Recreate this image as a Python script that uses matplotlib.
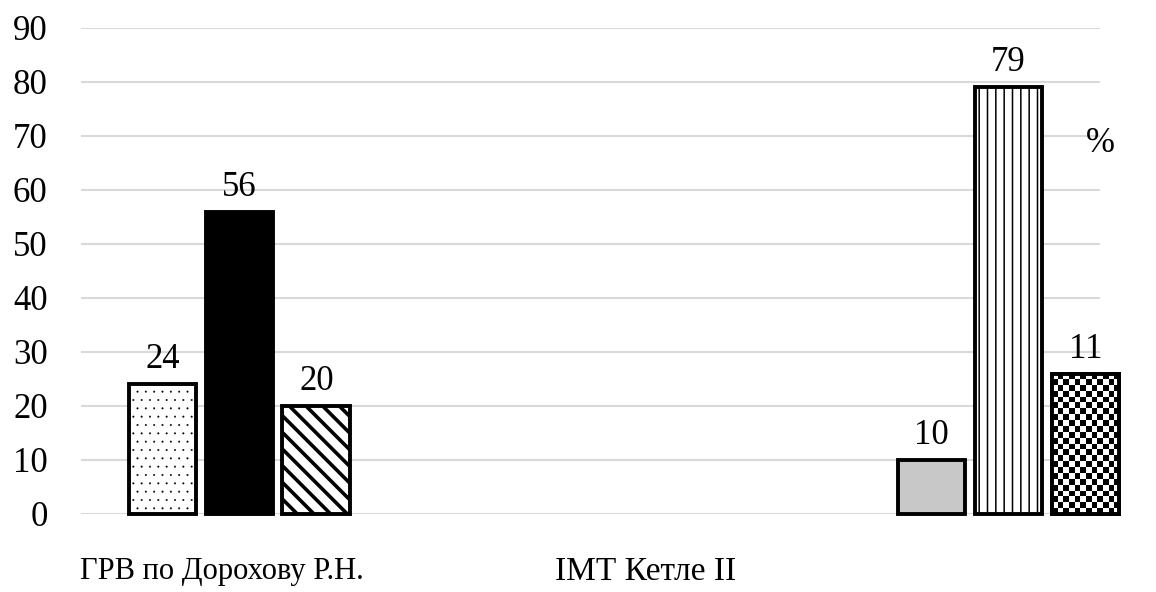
import matplotlib.pyplot as plt
import numpy as np
from matplotlib.patches import Rectangle

plt.rcParams['font.family'] = ['Liberation Serif', 'DejaVu Serif']

# six series, three per group (positions in bar slots)
positions = [0, 1, 2, 10, 11, 12]
heights = [24, 56, 20, 10, 79, 26]
labels = ['24', '56', '20', '10', '79', '11']
categories = ['ГРВ по Дорохову Р.Н.', 'ІМТ Кетле ІІ']
yticks = [0, 10, 20, 30, 40, 50, 60, 70, 80, 90]

fig = plt.figure(figsize=(11.56, 5.92), dpi=100)
ax = fig.add_axes([81 / 1156, 78 / 592, 1019 / 1156, 486 / 592])

styles = [
    dict(facecolor='white', hatch='..', edgecolor='black'),
    dict(facecolor='black', hatch='', edgecolor='black'),
    dict(facecolor='white', hatch='\\\\', edgecolor='black'),
    dict(facecolor='#c8c8c8', hatch='', edgecolor='black'),
    dict(facecolor='white', hatch='||', edgecolor='black'),
    dict(facecolor='white', hatch='', edgecolor='black'),
]
hatch_lw = [0.2, 1.0, 2.6, 1.0, 1.1, 1.0]

w = 0.88
for i, (x, h) in enumerate(zip(positions, heights)):
    bar = ax.bar(x, h, width=w, linewidth=2.8, zorder=3, clip_on=False,
                 **styles[i])[0]
    try:
        bar.set_hatch_linewidth(hatch_lw[i])
    except AttributeError:
        pass
    if i == 5:
        # checkerboard fill
        ny = int(h * 5.4 / 5.7)
        nx = 12
        yy, xx = np.indices((ny, nx))
        board = (yy + xx) % 2
        im = ax.imshow(board, cmap='gray', extent=(x - w / 2, x + w / 2, 0, h),
                       aspect='auto', interpolation='nearest', zorder=3.5,
                       origin='lower')
        im.set_clip_path(bar)
        ax.add_patch(Rectangle((x - w / 2, 0), w, h, facecolor='none',
                               edgecolor='black', linewidth=2.8, zorder=4,
                               clip_on=False))
    ax.text(x, h + 1.5, labels[i], ha='center', va='bottom', fontsize=25,
            color='black', zorder=5)

ax.set_xlim(-1.06, 12.19)
ax.set_ylim(0, 90)
ax.set_yticks(yticks)
ax.set_xticks([])
ax.tick_params(axis='y', length=0, pad=24, labelsize=25)
ax.yaxis.grid(True, color='#d9d9d9', linewidth=1.5, zorder=0)
ax.set_axisbelow(True)
for s in ax.spines.values():
    s.set_visible(False)

fig.text(80 / 1156, 1 - 572 / 592, categories[0], fontsize=22, ha='left', va='center')
fig.text(555 / 1156, 1 - 572 / 592, categories[1], fontsize=24, ha='left', va='center')
fig.text(1100 / 1156, 1 - 143 / 592, '%', fontsize=25, ha='center', va='center')

fig.savefig('out.png', dpi=100)
